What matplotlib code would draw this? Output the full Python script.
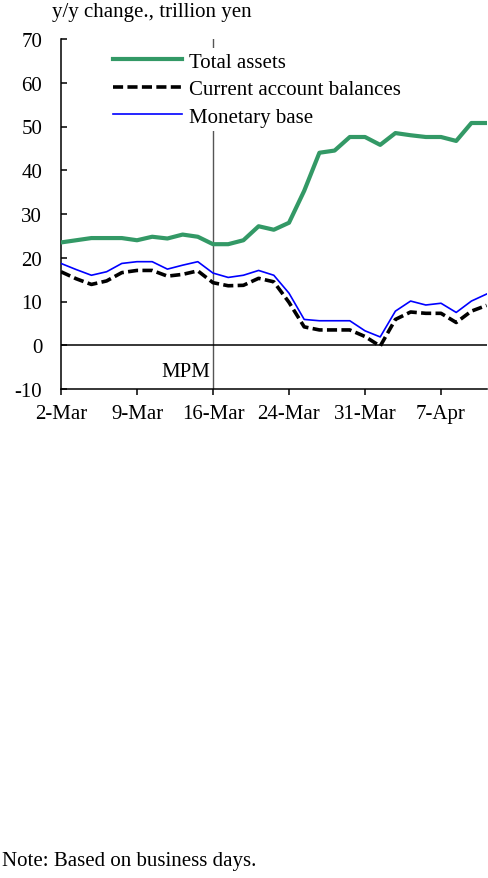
import matplotlib
matplotlib.use("Agg")
import matplotlib.pyplot as plt
import numpy as np

plt.rcParams['font.family'] = ['Liberation Serif', 'DejaVu Serif']
plt.rcParams['font.size'] = 15

dates = ["2-Mar", "3-Mar", "4-Mar", "5-Mar", "6-Mar",
         "9-Mar", "10-Mar", "11-Mar", "12-Mar", "13-Mar",
         "16-Mar", "17-Mar", "18-Mar", "19-Mar", "23-Mar",
         "24-Mar", "25-Mar", "26-Mar", "27-Mar", "30-Mar",
         "31-Mar", "1-Apr", "2-Apr", "3-Apr", "6-Apr",
         "7-Apr", "8-Apr", "9-Apr", "10-Apr"]
total_assets = [23.5, 24.0, 24.5, 24.5, 24.5, 24.0, 24.8, 24.4, 25.3, 24.8,
                23.1, 23.1, 24.0, 27.2, 26.4, 28.0, 35.3, 44.0, 44.5, 47.6,
                47.6, 45.8, 48.5, 48.0, 47.6, 47.6, 46.7, 50.8, 50.8]
current_account = [16.8, 15.2, 13.9, 14.7, 16.6, 17.1, 17.1, 15.8, 16.2, 17.0,
                   14.3, 13.6, 13.7, 15.3, 14.5, 9.8, 4.2, 3.5, 3.5, 3.5,
                   2.0, -0.2, 5.9, 7.6, 7.3, 7.3, 5.2, 7.8, 9.1]
monetary_base = [18.7, 17.3, 16.0, 16.8, 18.7, 19.1, 19.1, 17.4, 18.3, 19.1,
                 16.5, 15.5, 16.0, 17.1, 16.0, 11.9, 5.9, 5.6, 5.6, 5.6,
                 3.3, 1.9, 7.8, 10.1, 9.2, 9.6, 7.5, 10.1, 11.7]
tick_labels = ["2-Mar", "9-Mar", "16-Mar", "24-Mar", "31-Mar", "7-Apr"]
yticks = [-10, 0, 10, 20, 30, 40, 50, 60, 70]
mpm_date = "16-Mar"

x = np.arange(len(dates))

fig = plt.figure(figsize=(4.88, 8.79), dpi=100)
ax = fig.add_axes([61/488, 1-390/879, (486.6-61)/488, 350/879])

ax.axvline(dates.index(mpm_date), color='#555555', lw=1.0, zorder=1)
ax.axhline(0, color='black', lw=1.1, zorder=1)

ax.plot(x, total_assets, color='#339966', lw=3.0, label='Total assets', zorder=3)
ax.plot(x, current_account, color='black', lw=2.6, ls=(0, (2.8, 1.2)),
        label='Current account balances', zorder=3)
ax.plot(x, monetary_base, color='#0000FF', lw=1.2, label='Monetary base', zorder=3)

ax.set_xlim(0, len(dates) - 1)
ax.set_ylim(-10, 70)
ax.set_yticks(yticks)
ax.set_yticklabels([str(v) for v in yticks])
ax.set_xticks([dates.index(d) for d in tick_labels])
ax.set_xticklabels(tick_labels)

for s in ['top', 'right']:
    ax.spines[s].set_visible(False)
for s in ['left', 'bottom']:
    ax.spines[s].set_linewidth(1.1)

ax.tick_params(axis='y', direction='in', length=4, width=1.1, pad=13.5)
ax.tick_params(axis='x', direction='out', length=4, width=1.1, pad=7)

ax.text(dates.index(mpm_date) - 0.15, -5.9, 'MPM', ha='right', va='center')

leg = ax.legend(loc='upper left', bbox_to_anchor=(48/425.6, 1 - 9/350),
                frameon=True, facecolor='white', edgecolor='none', framealpha=1,
                handlelength=3.3, handletextpad=0.35, labelspacing=0.38,
                borderpad=0.2, borderaxespad=0)

fig.text(52/488, 1-13/879, 'y/y change., trillion yen', ha='left', va='center')
fig.text(2/488, 1-862/879, 'Note: Based on business days.', ha='left', va='center')

fig.savefig('out.png', dpi=100)
